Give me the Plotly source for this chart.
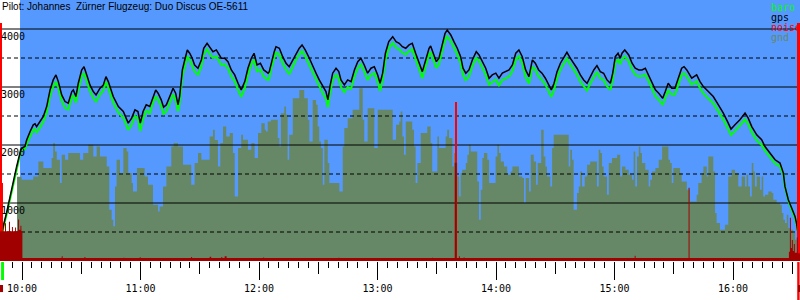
import plotly.graph_objects as go

TITLE = "Pilot: Johannes\u00a0 Zürner Flugzeug: Duo Discus OE-5611"

# time in minutes after 10:00
gps_t = [-9.9, -9.5, -7.8, -6.1, -4.4, -2.7, -1.0, -0.2, 1.5, 2.4, 4.1, 5.7, 6.6, 7.4, 9.1, 10.8, 12.5, 14.2,
         15.8, 17.2, 18.4, 20.1, 21.8, 23.4, 25.2, 26.0, 27.3, 28.5, 30.2, 31.4, 32.8, 34.4, 36.1, 37.5, 39.5,
         41.2, 42.5, 43.7, 46.2, 48.8, 51.3, 53.8, 55.5, 57.2, 58.7, 59.9, 61.3, 62.9, 64.7, 66.3, 67.7, 68.9,
         70.5, 71.7, 73.1, 74.8, 76.5, 77.8, 79.0, 79.8, 81.2, 82.4, 83.7, 84.9, 86.2, 87.4, 89.1, 90.8, 92.0,
         93.7, 95.3, 96.7, 98.4, 99.7, 100.9, 102.6, 104.3, 106.0, 107.7, 109.4, 111.0, 112.8, 114.4, 116.1,
         117.5, 119.0, 120.7, 122.4, 124.6, 125.2, 126.1, 127.7, 128.6, 130.3, 132.0, 133.7, 135.3, 137.1,
         138.7, 140.4, 141.8, 143.4, 145.5, 147.2, 148.9, 150.5, 152.3, 153.9, 154.9, 155.9, 157.3, 159.0,
         160.4, 161.5, 163.2, 164.9, 166.6, 168.3, 170.0, 171.6, 173.3, 175.0, 176.7, 178.4, 180.1, 181.3,
         182.6, 184.0, 185.7, 187.7, 189.4, 191.0, 192.6, 194.3, 196.0, 197.6, 199.3, 201.0, 202.7, 204.4,
         206.1, 206.9, 208.3, 209.8, 211.1, 212.8, 214.2, 215.3, 217.1, 218.7, 220.4, 222.1, 223.3, 224.7,
         226.3, 228.0, 230.0, 231.4, 233.1, 234.8, 236.5, 238.1, 239.9, 241.5, 243.2, 244.9, 246.6, 248.3,
         250.0, 251.6, 253.3, 255.0, 256.7, 258.4, 259.9, 261.6, 263.3, 265.0, 266.7, 268.0, 269.4, 270.9,
         272.6, 274.3, 275.9, 277.6, 279.3, 281.0, 282.7, 284.4, 286.1, 287.7, 289.5, 291.1, 292.8, 294.5,
         296.2, 297.9, 299.1, 300.4, 301.8, 302.9, 303.8, 305.2, 307.2, 308.9, 310.5, 312.3, 313.9, 315.6,
         317.3, 319.0, 320.7, 322.4, 324.4, 325.7, 327.2, 329.0, 330.6, 332.3, 334.0, 335.2, 336.6, 339.1,
         341.6, 343.3, 345.0, 347.5, 350.0, 352.6, 355.1, 357.6, 359.0, 361.0, 363.5, 366.1, 367.7, 369.5,
         372.0, 374.5, 376.2, 378.7, 381.3, 383.8, 385.5, 386.3, 388.0, 389.7, 391.4, 392.3, 392.7]
gps_alt = [510, 600, 833, 1108, 1384, 1630, 1866, 1947, 1974, 2090, 2232, 2348, 2365, 2318, 2405, 2491, 2663, 2950,
           3122, 3208, 3093, 2864, 2749, 2721, 2921, 2950, 2835, 3065, 3294, 3351, 3208, 3036, 2921, 2864, 2979,
           3036, 3179, 3093, 2835, 2663, 2577, 2377, 2463, 2606, 2577, 2377, 2577, 2692, 2663, 2835, 2950, 2893,
           2778, 2652, 2692, 2835, 2979, 2893, 2692, 2835, 3294, 3466, 3639, 3582, 3496, 3380, 3324, 3466, 3668,
           3754, 3668, 3609, 3639, 3553, 3496, 3496, 3437, 3294, 3208, 3065, 2950, 3093, 3324, 3496,
           3582, 3380, 3410, 3294, 3238, 3265, 3410, 3609, 3695, 3668, 3523, 3410, 3351, 3466,
           3582, 3668, 3725, 3639, 3496, 3351, 3238, 3122, 3007, 2921, 2778, 3007, 3238, 3324,
           3265, 3122, 3036, 3122, 3093, 3294, 3437, 3496, 3380, 3238, 3324, 3351, 3208, 3065,
           3238, 3582, 3782, 3868, 3782, 3754, 3695, 3668, 3725, 3754, 3582, 3437, 3265, 3466,
           3668, 3707, 3582, 3437, 3496, 3754, 3926, 3983, 3897, 3782, 3668, 3523, 3324, 3238,
           3294, 3466, 3609, 3553, 3437, 3324, 3151, 3208, 3238, 3151, 3238, 3265, 3294, 3380,
           3582, 3639, 3523, 3294, 3179, 3466, 3410, 3294, 3238, 3151, 3036, 2950, 3065, 3265,
           3410, 3496, 3599, 3496, 3410, 3324, 3208, 3122, 3065, 3179, 3294, 3368, 3265, 3238,
           3122, 3065, 3238, 3523, 3582, 3496, 3582, 3639, 3553, 3410, 3324, 3294, 3294, 3324,
           3208, 3093, 2950, 2893, 2807, 2921, 3065, 2979, 2979, 3151, 3324, 3351, 3294, 3151,
           3208, 3093, 3007, 2921, 2835, 2692, 2549, 2377, 2274, 2348, 2434, 2549, 2463, 2318,
           2176, 2090, 1974, 1861, 1745, 1688, 1516, 1286, 1057, 914, 769, 627, 523]
baro_alt = [500, 570, 800, 1070, 1340, 1590, 1830, 1920, 1930, 2020, 2150, 2260, 2270, 2210, 2300, 2400, 2560, 2840,
            3010, 3090, 2990, 2760, 2640, 2610, 2820, 2850, 2730, 2950, 3180, 3240, 3100, 2930, 2810, 2750, 2870,
            2940, 3090, 2990, 2730, 2560, 2470, 2260, 2350, 2500, 2460, 2240, 2450, 2590, 2550, 2730, 2840, 2780,
            2670, 2540, 2580, 2730, 2870, 2780, 2580, 2720, 3180, 3350, 3530, 3470, 3380, 3270, 3210, 3350, 3560,
            3650, 3560, 3500, 3530, 3440, 3380, 3390, 3320, 3180, 3100, 2950, 2830, 2980, 3210, 3390,
            3470, 3270, 3300, 3180, 3120, 3150, 3300, 3500, 3590, 3560, 3410, 3300, 3220, 3350,
            3470, 3560, 3620, 3530, 3380, 3240, 3120, 3010, 2890, 2800, 2650, 2880, 3120, 3210,
            3150, 3000, 2910, 3000, 2970, 3180, 3320, 3390, 3270, 3120, 3210, 3240, 3090, 2930,
            3110, 3460, 3670, 3760, 3680, 3650, 3590, 3560, 3620, 3650, 3480, 3330, 3150, 3360,
            3560, 3600, 3480, 3330, 3390, 3640, 3810, 3870, 3790, 3680, 3560, 3410, 3210, 3120,
            3180, 3360, 3500, 3450, 3330, 3210, 3040, 3090, 3130, 3030, 3120, 3150, 3180, 3270,
            3470, 3530, 3410, 3170, 3060, 3350, 3300, 3180, 3120, 3040, 2920, 2830, 2950, 3150,
            3300, 3390, 3490, 3390, 3300, 3210, 3090, 3010, 2940, 3060, 3180, 3260, 3150, 3120,
            3010, 2950, 3120, 3410, 3470, 3390, 3470, 3530, 3440, 3300, 3210, 3180, 3190, 3210,
            3100, 2980, 2840, 2780, 2690, 2810, 2940, 2870, 2870, 3040, 3210, 3240, 3180, 3040,
            3100, 2980, 2890, 2800, 2720, 2580, 2440, 2270, 2170, 2240, 2330, 2440, 2360, 2220,
            2080, 2000, 1900, 1790, 1680, 1630, 1490, 1280, 1040, 880, 740, 610, 520]

gnd_t = [-2.5, -0.2, 5.7, 8.3, 10.8, 15.0, 15.8, 16.7, 17.6, 19.2, 20.1, 21.8, 23.4, 29.4, 31.0, 33.6, 36.1, 37.8,
         39.5, 42.9, 44.2, 45.4, 46.2, 47.1, 47.9, 49.6, 51.3, 53.0, 53.8, 55.5, 56.2, 58.2, 62.1, 63.8, 66.3,
         68.9, 69.7, 71.4, 73.1, 75.6, 76.8, 79.0, 81.5, 85.7, 87.4, 89.1, 90.8, 95.0, 96.7, 97.6, 99.2, 100.4,
         101.8, 103.4, 105.2, 106.8, 107.7, 109.4, 111.0, 111.9, 114.4, 116.1, 117.8, 119.5, 121.2, 122.9,
         123.5, 124.4, 126.1, 129.5, 130.3, 131.1, 132.8, 133.7, 134.5, 135.3, 137.1, 140.4, 142.9, 144.7,
         145.5, 147.2, 148.9, 149.7, 150.5, 151.4, 152.3, 153.1, 154.8, 155.6, 160.7, 162.4, 163.2, 164.9,
         167.4, 170.8, 172.5, 173.3, 175.0, 178.4, 180.1, 187.7, 189.4, 191.0, 191.7, 192.6, 193.4, 194.3,
         197.6, 198.5, 199.3, 200.2, 201.9, 205.2, 206.9, 207.7, 210.3, 211.1, 214.5, 215.3, 216.2, 217.9,
         218.7, 219.6, 220.4, 221.3, 222.1, 222.9, 224.7, 225.5, 226.3, 227.2, 230.5, 231.4, 232.3, 233.1,
         233.9, 235.6, 236.5, 239.8, 240.7, 241.5, 242.4, 244.0, 245.7, 247.4, 248.3, 251.6, 253.3, 254.2,
         255.0, 256.7, 257.6, 259.1, 260.3, 261.1, 262.9, 264.1, 265.0, 265.8, 267.5, 268.4, 269.2, 276.8,
         277.6, 278.5, 279.3, 281.0, 281.9, 282.7, 283.6, 284.9, 286.1, 287.7, 291.1, 292.0, 292.8, 293.7,
         294.5, 296.2, 297.1, 298.7, 301.3, 302.9, 303.8, 305.5, 307.2, 308.9, 309.7, 310.5, 311.4, 312.3,
         313.1, 313.9, 315.6, 317.3, 318.1, 319.0, 320.7, 322.4, 324.1, 327.3, 328.1, 329.0, 329.8, 333.2,
         334.0, 336.6, 338.2, 341.6, 342.4, 344.1, 345.0, 346.7, 347.5, 350.0, 350.9, 351.7, 353.4, 355.9,
         357.6, 359.3, 361.0, 362.7, 364.4, 366.1, 366.9, 367.7, 368.6, 369.5, 370.3, 371.1, 372.0, 373.7,
         374.5, 375.3, 376.2, 377.9, 379.6, 380.4, 382.1, 383.8, 384.7, 385.5, 386.3, 387.2, 388.0, 388.8,
         390.5, 391.4, 392.2, 392.9]
gnd_alt = [1453, 1401, 1458, 1716, 1602, 1775, 2033, 1888, 1745, 1344, 1831, 1745, 1861, 1745, 1861, 2003, 1802, 1974,
           1802, 1630, 885, 712, 597, 1286, 1745, 1516, 1947, 1888, 1516, 1344, 1200, 1602, 1458, 1315, 971,
           855, 941, 1286, 1630, 1974, 2033, 1974, 1659, 1315, 1688, 1861, 1745, 2146, 2262, 2088, 1630, 2033,
           2318, 2146, 2205, 1861, 1114, 1947, 2176, 2090, 1917, 2033, 1775, 2205, 2377, 2262,
           2232, 2405, 2434, 2119, 1974, 2549, 2663, 2520, 1745, 2176, 2807, 2950, 2807, 2434,
           2060, 2778, 2692, 2318, 2060, 1947, 1315, 2090, 1688, 1344, 1200, 1974, 2291, 2463,
           2606, 2979, 2434, 2060, 2635, 1947, 2606, 2090, 2348, 2405, 2577, 2146, 1831, 2405,
           2262, 1974, 1344, 1688, 2205, 2318, 2033, 1544, 2146, 1947, 2146, 2262, 2119, 1630,
           1861, 1688, 1458, 1114, 1516, 1573, 1688, 1831, 2003, 1888, 1372, 712, 1229, 1775,
           1861, 1745, 1344, 1802, 2003, 1861, 1716, 1630, 1487, 1544, 1630, 1458, 1430, 1000,
           1430, 1200, 1831, 1716, 1315, 1688, 2262, 1802, 1630, 1458, 1286, 1947, 2176, 1630,
           1917, 1745, 885, 1172, 1286, 1544, 1286, 1458, 1659, 1716, 1286, 1917, 1861, 1630,
           1458, 1143, 1688, 1775, 1831, 1458, 1630, 1573, 1487, 1401, 1888, 1286, 1802, 1974,
           1861, 1688, 1573, 1286, 1401, 1544, 1602, 1745, 1974, 1745, 1688, 1344, 1602, 1516,
           1372, 1229, 1028, 1143, 1344, 1516, 1630, 1458, 1802, 1544, 828, 656, 540, 627,
           1458, 1573, 1516, 1286, 1458, 1286, 1487, 1286, 1114, 1688, 1544, 1286, 1458, 1229,
           1458, 1114, 1143, 1200, 1172, 1057, 1000, 971, 828, 712, 656, 799, 570, 540,
           484, 368, 145, 0]

# noise level (percent of noise scale)
noise_t = [-11.14, -8.6, -8.1, -6.6, -6.1, -5.1, -4.6, -3.5, -3.0, -2.0, -1.5, -0.8, -0.3, 0.2,
           20.1, 20.6, 31.6, 32.1, 51.4, 51.9, 59.6, 60.1, 85.6, 86.1, 95.0, 95.8, 100.9, 101.4,
           102.6, 103.6, 122.1, 122.6, 160.2, 160.7, 207.6, 208.1, 216.0, 216.5, 219.1, 220.1,
           221.2, 221.7, 223.6, 224.1, 310.2, 310.7, 337.5, 338.0, 373.5, 374.0,
           388.3, 388.8, 389.3, 389.8, 390.3, 390.8, 391.3, 392.3, 392.8, 393.92]
noise_avg = [11.4, 14.5, 11.4, 15.0, 11.4, 13.0, 11.4, 12.8, 11.4, 15.9, 12.0, 13.5, 11.4, 0.7,
             1.8, 0.7, 1.5, 0.7, 1.2, 0.7, 1.4, 0.7, 1.5, 0.7, 1.6, 0.7, 1.5, 0.7,
             1.8, 0.7, 1.3, 0.7, 1.2, 0.7, 1.2, 0.7, 0.9, 0.7, 37.6, 0.7,
             1.8, 0.7, 1.3, 0.7, 2.0, 0.7, 28.1, 0.7, 0.9, 0.7,
             3.5, 16.6, 5.0, 8.0, 3.8, 6.5, 3.2, 9.0, 3.0, 3.0]
peak_t = [-10.4, -10.4, 219.9, 393.2]
peak_val = [91, 30, 61, 91]

hour_ticks = [0, 60, 120, 180, 240, 300, 360]
hour_labels = ["10:00", "11:00", "12:00", "13:00", "14:00", "15:00", "16:00"]
alt_labels = [1000, 2000, 3000, 4000]
grid_solid = [1000, 2000, 3000, 4000]
grid_dash = [500, 1500, 2500, 3500]
x_range = [-11.14, 393.92]
tow_end = -1.0
takeoff_t = -9.9
landing_t = 393.1

BLUE = "#5599ff"
GND = "#668866"
DARKRED = "#a00000"
MONO = "DejaVu Sans Mono"

fig = go.Figure()
fig.add_trace(go.Scatter(x=gnd_t, y=gnd_alt, mode="lines", line=dict(shape="hv", width=0, color=GND),
                         fill="tozeroy", fillcolor=GND, hoverinfo="skip", showlegend=False))
for v in grid_solid:
    fig.add_trace(go.Scatter(x=x_range, y=[v, v], mode="lines", line=dict(color="black", width=1),
                             showlegend=False, hoverinfo="skip"))
for v in grid_dash:
    fig.add_trace(go.Scatter(x=x_range, y=[v, v], mode="lines",
                             line=dict(color="black", width=1, dash="4px,3px"),
                             showlegend=False, hoverinfo="skip"))
fig.add_trace(go.Scatter(x=gps_t, y=baro_alt, mode="lines", line=dict(color="#00ff00", width=2),
                         name="baro", showlegend=False))
fig.add_trace(go.Scatter(x=gps_t, y=gps_alt, mode="lines", line=dict(color="black", width=1.5),
                         name="gps", showlegend=False))
# noise on its own hidden scale
fig.add_trace(go.Scatter(x=noise_t, y=noise_avg, mode="lines", line=dict(shape="hv", width=0, color=DARKRED),
                         fill="tozeroy", fillcolor=DARKRED, xaxis="x2", yaxis="y2", showlegend=False))
fig.add_trace(go.Scatter(x=noise_t, y=[0.8] * len(noise_t), mode="lines", line=dict(color=DARKRED, width=2),
                         xaxis="x2", yaxis="y2", showlegend=False, hoverinfo="skip"))
fig.add_trace(go.Bar(x=peak_t, y=peak_val, width=[0.6, 1.6, 0.5, 1.6], marker=dict(color="#ff0000", line=dict(width=0)),
                     xaxis="x2", yaxis="y2", showlegend=False, name="noise"))

shapes = [
    dict(type="rect", xref="x", yref="paper", x0=x_range[0], x1=tow_end, y0=0, y1=1,
         fillcolor="white", line=dict(width=0), layer="below"),
    dict(type="rect", xref="x", yref="paper", x0=takeoff_t - 0.7, x1=takeoff_t + 0.8, y0=-0.004, y1=-0.073,
         fillcolor="#00ff00", line=dict(width=0)),
    dict(type="rect", xref="x", yref="paper", x0=x_range[0], x1=takeoff_t + 0.3, y0=-0.092, y1=-0.119,
         fillcolor=DARKRED, line=dict(width=0)),
    dict(type="rect", xref="x", yref="paper", x0=landing_t - 0.6, x1=landing_t + 0.6, y0=-0.004, y1=-0.15,
         fillcolor="#ff0000", line=dict(width=0)),
    dict(type="rect", xref="x", yref="paper", x0=landing_t - 0.2, x1=x_range[1], y0=-0.092, y1=-0.119,
         fillcolor=DARKRED, line=dict(width=0)),
]

annotations = [dict(x=0, xref="paper", xanchor="left", y=1, yref="paper", yanchor="top", yshift=1,
                    text=TITLE, showarrow=False, font=dict(family="Liberation Sans", size=10, color="black"))]
for v in alt_labels:
    annotations.append(dict(x=0, xref="paper", xanchor="left", xshift=-1, y=v, yref="y", yanchor="top", yshift=0,
                            text=str(v), showarrow=False, font=dict(family=MONO, size=10, color="black")))
legend_items = [("baro", "#00ff00"), ("gps", "black"), ("noise", "#ff0000"), ("gnd", GND)]
for i, (name, col) in enumerate(legend_items):
    annotations.append(dict(x=0.961, xref="paper", xanchor="left", y=1, yref="paper", yanchor="middle",
                            yshift=-7 - 10 * i, text=name, showarrow=False,
                            font=dict(family=MONO, size=10, color=col)))

fig.update_layout(
    width=800, height=300,
    margin=dict(l=0, r=0, t=0, b=39, pad=0),
    paper_bgcolor="white", plot_bgcolor=BLUE,
    barmode="overlay", bargap=0,
    showlegend=False,
    xaxis=dict(range=x_range, showgrid=False, zeroline=False, showline=False,
               tickmode="linear", tick0=30, dtick=60, ticks="outside", ticklen=12, tickwidth=1,
               tickcolor="black", showticklabels=False,
               minor=dict(tickmode="linear", tick0=0, dtick=5, ticks="outside", ticklen=6,
                          tickwidth=1, tickcolor="black", showgrid=False)),
    xaxis2=dict(range=x_range, overlaying="x", anchor="y2", side="bottom", showgrid=False, zeroline=False,
                showline=False, tickmode="array", tickvals=hour_ticks, ticktext=hour_labels,
                ticks="outside", ticklen=18, tickwidth=1, tickcolor="black",
                tickfont=dict(family=MONO, size=10, color="black")),
    yaxis=dict(range=[0, 4500], showgrid=False, zeroline=False, showticklabels=False, ticks=""),
    yaxis2=dict(range=[0, 100], overlaying="y", visible=False),
    shapes=shapes,
    annotations=annotations,
)

fig.write_html("out.html")
